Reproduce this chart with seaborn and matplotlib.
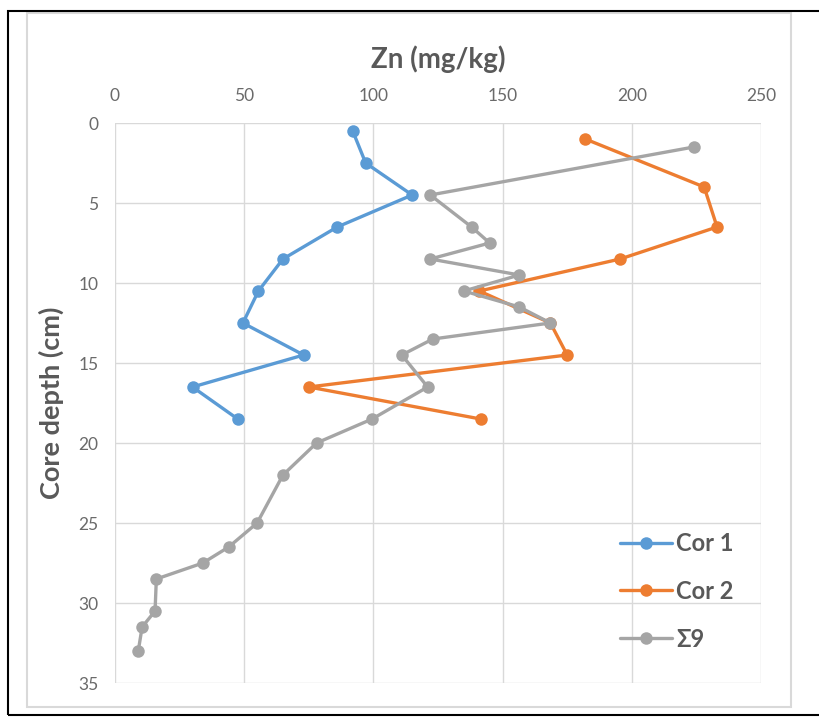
import numpy as np
import pandas as pd
import matplotlib
matplotlib.use("Agg")
import matplotlib.pyplot as plt
from matplotlib.patches import Rectangle
import seaborn as sns

# ---- data ----
cor1_depth = [0.5, 2.5, 4.5, 6.5, 8.5, 10.5, 12.5, 14.5, 16.5, 18.5]
cor1_zn = [92, 97, 115, 86, 65, 55.5, 49.5, 73, 30, 47.5]

cor2_depth = [1.0, 4.0, 6.5, 8.5, 10.5, 12.5, 14.5, 16.5, 18.5]
cor2_zn = [182, 228, 233, 195.5, 141, 168.5, 175, 75, 141.5]

s9_depth = [1.5, 4.5, 6.5, 7.5, 8.5, 9.5, 10.5, 11.5, 12.5, 13.5, 14.5, 16.5,
            18.5, 20, 22, 25, 26.5, 27.5, 28.5, 30.5, 31.5, 33]
s9_zn = [224, 122, 138, 145, 122, 156.5, 135, 156.5, 168.5, 123, 111, 121,
         99.5, 78, 65, 55, 44, 34, 16, 15.5, 10.5, 9]

series_names = ["Cor 1", "Cor 2", "Σ9"]
colors = ["#5B9BD5", "#ED7D31", "#A5A5A5"]
x_ticks = [0, 50, 100, 150, 200, 250]
y_ticks = [0, 5, 10, 15, 20, 25, 30, 35]

df = pd.concat([
    pd.DataFrame({"depth": cor1_depth, "zn": cor1_zn, "series": series_names[0]}),
    pd.DataFrame({"depth": cor2_depth, "zn": cor2_zn, "series": series_names[1]}),
    pd.DataFrame({"depth": s9_depth, "zn": s9_zn, "series": series_names[2]}),
], ignore_index=True)

sns.set_theme(style="white")
plt.rcParams["font.family"] = ["Lato", "DejaVu Sans"]

fig = plt.figure(figsize=(8.2, 7.17), dpi=100)
ax = fig.add_axes([115 / 820, 1 - 683 / 717, (761 - 115) / 820, (683 - 123) / 717])

sns.lineplot(data=df, x="zn", y="depth", hue="series", hue_order=series_names,
             palette=colors, sort=False, estimator=None, marker="o",
             markersize=9, markeredgewidth=0, linewidth=2.4, ax=ax, zorder=3)

ax.set_xlim(0, 250)
ax.set_ylim(35, 0)
ax.set_xticks(x_ticks)
ax.set_yticks(y_ticks)
ax.xaxis.tick_top()
ax.xaxis.set_label_position("top")
ax.grid(True, color="#D9D9D9", linewidth=1.0, zorder=0)
for s in ax.spines.values():
    s.set_visible(False)
ax.tick_params(axis="both", length=0, labelsize=12.5, labelcolor="#6A6A6A", pad=12)
ax.tick_params(axis="x", pad=14)

ax.set_xlabel("Zn (mg/kg)", fontsize=20, fontweight="bold", color="#595959", labelpad=14)
ax.set_ylabel("Core depth (cm)", fontsize=19.5, fontweight="bold", color="#595959", labelpad=10)

handles, labels = ax.get_legend_handles_labels()
leg = ax.legend(handles, labels, loc="lower right", bbox_to_anchor=(0.99, 0.02),
                frameon=False, labelspacing=1.05, handlelength=2.2,
                handletextpad=0.15, prop={"weight": "bold", "size": 17})
for t in leg.get_texts():
    t.set_color("#595959")

# chart frame and outer border
fig.add_artist(Rectangle((27 / 820, 1 - 707 / 717), (791 - 27) / 820, (707 - 13) / 717,
                         transform=fig.transFigure, fill=False, edgecolor="#D9D9D9", linewidth=1.5))
fig.add_artist(Rectangle((8 / 820, 1 - 715 / 717), (830 - 8) / 820, (715 - 11) / 717,
                         transform=fig.transFigure, fill=False, edgecolor="black", linewidth=1.5))

fig.savefig("out.png", dpi=100)
